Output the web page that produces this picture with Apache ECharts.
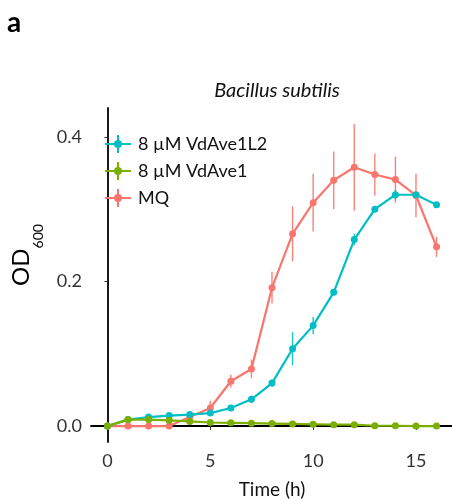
<!DOCTYPE html>
<html><head><meta charset="utf-8">
<script src="https://cdn.jsdelivr.net/npm/echarts@6/dist/echarts.min.js"></script>
<style>html,body{margin:0;padding:0;background:#fff;}#c{width:452px;height:501px;}</style>
</head><body><div id="c"></div>
<script>
const hours = [0,1,2,3,4,5,6,7,8,9,10,11,12,13,14,15,16];
const seriesNames = ['8 µM VdAve1L2','8 µM VdAve1','MQ'];
const vdAve1L2 = [0,0.009,0.0125,0.0145,0.016,0.018,0.025,0.037,0.0595,0.107,0.139,0.185,0.258,0.300,0.320,0.320,0.306];
const vdAve1L2Err = [0,0.002,0.002,0.002,0.002,0.002,0.004,0.005,0.005,0.023,0.012,0.004,0.008,0.004,0.007,0.004,0.004];
const vdAve1 = [0,0.009,0.009,0.008,0.0065,0.005,0.0045,0.004,0.0035,0.003,0.0025,0.002,0.002,0.0005,0.0005,0,0];
const vdAve1Err = [0,0.001,0.001,0.001,0.001,0.001,0.001,0.001,0.001,0.001,0.001,0.001,0.001,0.001,0.001,0.001,0.001];
const mq = [0,0,0,0,0.0125,0.025,0.062,0.079,0.1915,0.266,0.309,0.340,0.358,0.348,0.341,0.319,0.248];
const mqErr = [0,0.001,0.001,0.001,0.002,0.01,0.009,0.013,0.022,0.038,0.040,0.040,0.060,0.029,0.032,0.030,0.014];
const xTicks = [0,5,10,15];
const yTicks = [0,0.2,0.4];
const colors = {'8 µM VdAve1L2':'#00BFC4','8 µM VdAve1':'#7CAE00','MQ':'#F8766D'};

const font = 'Lato, "Open Sans", sans-serif';
const legendIcon = 'path://M0,8h26v2h-26z M12,0h2v18h-2z M9,9a4,4 0 1,1 8,0a4,4 0 1,1 -8,0z';

function lineSeries(name, vals, z){
  return {name, type:'line', data: hours.map((h,i)=>[h, vals[i]]), color: colors[name],
    symbol:'circle', symbolSize:7, lineStyle:{width:2.2, color:colors[name]},
    itemStyle:{color:colors[name]}, z, animation:false};
}
function errSeries(name, vals, errs, z){
  return {name: name+'_err', type:'custom', z, animation:false, silent:true,
    data: hours.map((h,i)=>[h, vals[i]-errs[i], vals[i]+errs[i]]),
    renderItem(params, api){
      const p1 = api.coord([api.value(0), api.value(1)]);
      const p2 = api.coord([api.value(0), api.value(2)]);
      return {type:'line', shape:{x1:p1[0],y1:p1[1],x2:p2[0],y2:p2[1]},
        style:{stroke:colors[name], lineWidth:1.4, opacity:0.9}};
    }};
}

const chart = echarts.init(document.getElementById('c'), null, {renderer:'canvas'});
chart.setOption({
  backgroundColor:'#fff',
  animation:false,
  title:[
    {text:'a', left:2, top:4, textStyle:{fontFamily:font, fontWeight:'bold', fontSize:28, color:'#000'}},
    {text:'Bacillus subtilis', left:272, textAlign:'center', top:76, textStyle:{fontFamily:font, fontStyle:'italic', fontWeight:'normal', fontSize:20, color:'#111'}}
  ],
  grid:{left:91, right:-1, top:108, bottom:59, containLabel:false, outerBoundsMode:'none'},
  legend:{
    left:100, top:130, orient:'vertical', itemGap:9, itemWidth:26, itemHeight:18,
    data: seriesNames.map(n=>({name:n, icon:legendIcon, itemStyle:{color:colors[n]}})),
    textStyle:{fontFamily:font, fontSize:18, color:'#111', padding:[0,0,0,2]}
  },
  xAxis:{type:'value', min:-0.8, max:16.8,
    name:'Time (h)', nameLocation:'middle', nameGap:38,
    nameTextStyle:{fontFamily:font, fontSize:19, color:'#111'},
    axisLine:{lineStyle:{color:'#000', width:1.8}},
    axisTick:{show:true, length:4, lineStyle:{color:'#333', width:1}, customValues:xTicks},
    axisLabel:{customValues:xTicks, fontFamily:font, fontSize:18, color:'#333', margin:10},
    splitLine:{show:false}},
  yAxis:{type:'value', min:-0.022, max:0.44,
    name:'{a|OD}{b|600}', nameLocation:'middle', nameGap:30,
    nameTextStyle:{padding:[0,0,0,40], rich:{
      a:{fontFamily:font, fontSize:24, lineHeight:24, color:'#000', verticalAlign:'top'},
      b:{fontFamily:font, fontSize:14, color:'#000', verticalAlign:'top', padding:[23,0,0,0]}}},
    axisLine:{show:true, lineStyle:{color:'#000', width:1.8}},
    axisTick:{show:true, length:3, lineStyle:{color:'#333', width:1}, customValues:yTicks},
    axisLabel:{customValues:yTicks, formatter:v=>v.toFixed(1), fontFamily:font, fontSize:18, color:'#333', margin:9},
    splitLine:{show:false}},
  series:[
    errSeries('MQ', mq, mqErr, 1),
    lineSeries('MQ', mq, 2),
    errSeries('8 µM VdAve1L2', vdAve1L2, vdAve1L2Err, 3),
    lineSeries('8 µM VdAve1L2', vdAve1L2, 4),
    errSeries('8 µM VdAve1', vdAve1, vdAve1Err, 5),
    lineSeries('8 µM VdAve1', vdAve1, 6)
  ]
});
</script></body></html>
